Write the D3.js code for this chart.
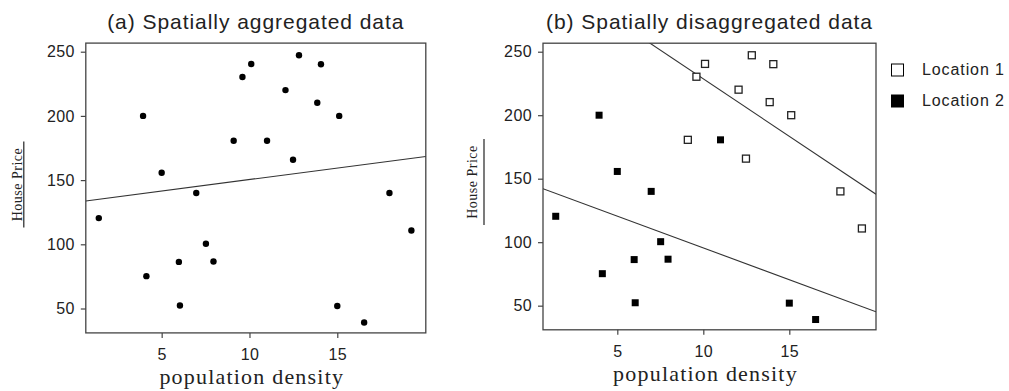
<!DOCTYPE html>
<html>
<head>
<meta charset="utf-8">
<script src="https://cdn.jsdelivr.net/npm/d3@7"></script>
<style>
  body { margin: 0; background: #fff; }
  svg { display: block; }
  .tick text { font-family: 'Liberation Sans', Arial, sans-serif; font-size: 16px; fill: #222; letter-spacing: 0.4px; }
  .tick line { stroke: #444; stroke-width: 1.2; }
</style>
</head>
<body>
<div id="chart"></div>
<script>
// values
const loc1Density = [9.1, 9.6, 10.1, 12.05, 12.48, 12.82, 13.86, 14.07, 15.11, 17.97, 19.22]
const loc1Price = [180.6, 230.3, 240.4, 220.1, 165.8, 247.2, 210.3, 240.2, 200, 140, 110.8]
const loc2Density = [1.42, 3.94, 4.13, 5, 5.98, 6.04, 6.97, 7.52, 7.95, 11, 15, 16.53]
const loc2Price = [120.4, 200, 75.2, 155.7, 86.3, 52.3, 140, 100.4, 86.6, 180.6, 52, 39.1]
const xTicks = [5, 10, 15]
const yTicks = [50, 100, 150, 200, 250]
const xDomain = [0.68, 20.04]
const yDomain = [31, 256.7]
const titles = ['(a) Spatially aggregated data', '(b) Spatially disaggregated data']
const legendLabels = ['Location 1', 'Location 2']

const W = 1009, H = 391

const loc1 = loc1Density.map((d, i) => ({ x: d, y: loc1Price[i], g: 0 }))
const loc2 = loc2Density.map((d, i) => ({ x: d, y: loc2Price[i], g: 1 }))
const all = loc1.concat(loc2)

// least squares fit
function fit(data) {
    const mx = d3.mean(data, d => d.x), my = d3.mean(data, d => d.y)
    const sxy = d3.sum(data, d => (d.x - mx) * (d.y - my))
    const sxx = d3.sum(data, d => (d.x - mx) * (d.x - mx))
    const b = sxy / sxx
    return { a: my - b * mx, b: b }
}

const panels = [
    { left: 85.8, right: 425.8, top: 43.1, bottom: 332.9, ylabX: -64, ruleX: -62, ylabY: -3.5, xlabDy: 51 },
    { left: 543, right: 876, top: 43.2, bottom: 329.8, ylabX: -66, ruleX: -59, ylabY: -4.5, xlabDy: 51 }
]

const svg = d3.select('#chart')
    .append('svg')
    .attr('width', W)
    .attr('height', H)

panels.forEach((p, k) => {
    const x = d3.scaleLinear().domain(xDomain).range([p.left, p.right])
    const y = d3.scaleLinear().domain(yDomain).range([p.bottom, p.top])
    const g = svg.append('g')
    const cx = (p.left + p.right) / 2
    const cy = (p.top + p.bottom) / 2

    g.append('clipPath')
        .attr('id', 'clip' + k)
        .append('rect')
        .attr('x', p.left).attr('y', p.top)
        .attr('width', p.right - p.left).attr('height', p.bottom - p.top)

    // axes
    g.append('g')
        .attr('transform', `translate(0, ${p.bottom})`)
        .call(d3.axisBottom(x).tickValues(xTicks).tickSize(5).tickPadding(11).tickSizeOuter(0))
        .call(s => s.select('.domain').remove())
    g.append('g')
        .attr('transform', `translate(${p.left}, 0)`)
        .call(d3.axisLeft(y).tickValues(yTicks).tickSize(5).tickPadding(6).tickSizeOuter(0))
        .call(s => s.select('.domain').remove())

    g.append('rect')
        .attr('x', p.left).attr('y', p.top)
        .attr('width', p.right - p.left).attr('height', p.bottom - p.top)
        .attr('fill', 'none')
        .attr('stroke', '#444')
        .attr('stroke-width', 1.3)

    // titles
    g.append('text')
        .attr('x', cx).attr('y', 29)
        .attr('text-anchor', 'middle')
        .style('font-family', "'Liberation Sans', Arial, sans-serif")
        .style('font-size', '21px')
        .style('letter-spacing', '0.95px')
        .style('fill', '#222')
        .text(titles[k])

    g.append('text')
        .attr('x', cx - 4).attr('y', p.bottom + p.xlabDy)
        .attr('text-anchor', 'middle')
        .style('font-family', "'Liberation Serif', 'Times New Roman', serif")
        .style('font-size', '22px')
        .style('letter-spacing', '1.2px')
        .style('fill', '#222')
        .text('population density')

    g.append('text')
        .attr('transform', `translate(${p.left + p.ylabX}, ${cy + p.ylabY}) rotate(-90)`)
        .attr('text-anchor', 'middle')
        .style('font-family', "'Liberation Serif', 'Times New Roman', serif")
        .style('font-size', '14px')
        .style('letter-spacing', '0.5px')
        .style('fill', '#222')
        .text('House Price')
    g.append('line')
        .attr('x1', p.left + p.ruleX).attr('x2', p.left + p.ruleX)
        .attr('y1', cy + p.ylabY - 43).attr('y2', cy + p.ylabY + 43)
        .attr('stroke', '#222')
        .attr('stroke-width', 1.2)

    // regression lines
    const groups = k === 0 ? [all] : [loc1, loc2]
    groups.forEach(data => {
        const f = fit(data)
        g.append('path')
            .datum(xDomain)
            .attr('clip-path', `url(#clip${k})`)
            .attr('fill', 'none')
            .attr('stroke', '#333')
            .attr('stroke-width', 1.1)
            .attr('d', d3.line().x(d => x(d)).y(d => y(f.a + f.b * d)))
    })

    // points
    if (k === 0) {
        g.selectAll('circle')
            .data(all)
            .join('circle')
            .attr('cx', d => x(d.x))
            .attr('cy', d => y(d.y))
            .attr('r', 3.2)
            .attr('fill', '#000')
    } else {
        const s = 7
        g.selectAll('rect.pt')
            .data(all)
            .join('rect')
            .attr('class', 'pt')
            .attr('x', d => x(d.x) - s / 2)
            .attr('y', d => y(d.y) - s / 2)
            .attr('width', s).attr('height', s)
            .attr('fill', d => d.g === 0 ? '#fff' : '#000')
            .attr('stroke', d => d.g === 0 ? '#222' : 'none')
            .attr('stroke-width', 1.3)

        // legend
        const lg = g.append('g').attr('transform', `translate(${p.right + 15}, 0)`)
        legendLabels.forEach((lab, i) => {
            const ly = 70 + i * 31
            lg.append('rect')
                .attr('x', 0.5).attr('y', ly - 6)
                .attr('width', 12).attr('height', 12)
                .attr('fill', i === 0 ? '#fff' : '#000')
                .attr('stroke', '#000')
                .attr('stroke-width', 1)
            lg.append('text')
                .attr('x', 31).attr('y', ly - 1)
                .attr('dominant-baseline', 'central')
                .style('font-family', "'Liberation Sans', Arial, sans-serif")
                .style('font-size', '16px')
                .style('letter-spacing', '0.9px')
                .style('fill', '#222')
                .text(lab)
        })
    }
})
</script>
</body>
</html>
